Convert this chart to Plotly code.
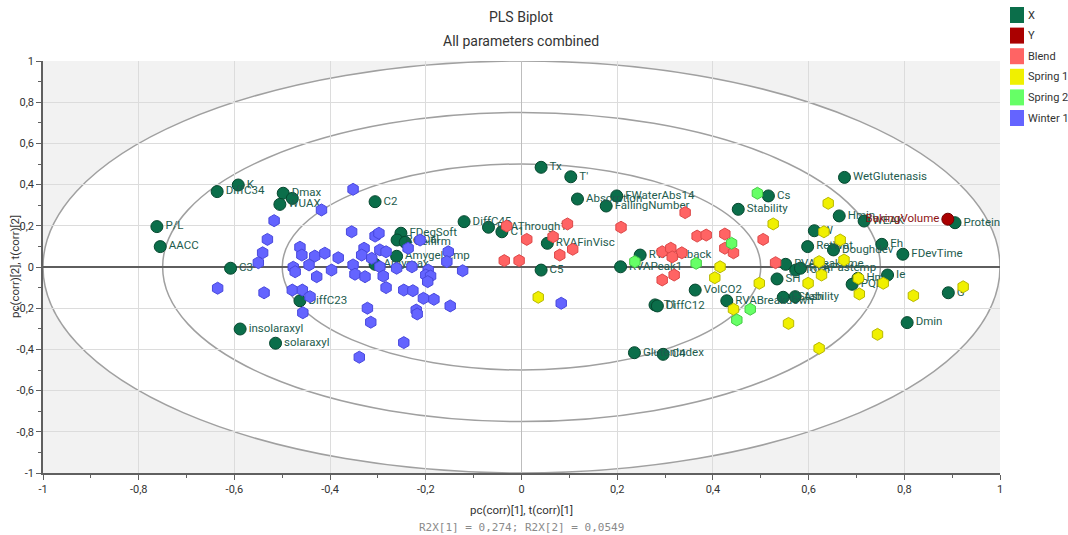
import plotly.graph_objects as go

# ---------------- data ----------------
x_names = ["DiffC34", "K", "Dmax", "", "WUAX", "P/L", "AACC", "C3", "insolaraxyl", "solaraxyl",
           "DiffC23", "C2", "FDegSoft", "RetCal", "Gelfirm", "Amygeltemp", "Amymax", "DiffC45",
           "RVAThrough1", "C1", "Tx", "T'", "Absorption", "FWaterAbs14", "FallingNumber",
           "RVAFinVisc", "C5", "RVAPeak1", "RVASetback", "T1", "DiffC12", "GlutenIndex", "C4",
           "VolCO2", "RVABreakdown", "Cs", "Stability", "WetGlutenasis", "Hmin", "WEAK",
           "Protein", "W", "RetWat", "Doughdev", "Eh", "FDevTime", "Ie", "Hm", "PQN", "G",
           "Dmin", "SH", "RVAPeaktime", "Total", "RVAPastemp", "FStability", "Ash"]
x_pc1 = [-0.636, -0.592, -0.498, -0.479, -0.505, -0.762, -0.755, -0.608, -0.588, -0.514,
         -0.463, -0.306, -0.252, -0.260, -0.243, -0.261, -0.306, -0.120,
         -0.069, -0.041, 0.041, 0.103, 0.117, 0.199, 0.177,
         0.054, 0.041, 0.207, 0.248, 0.279, 0.284, 0.236, 0.296,
         0.363, 0.429, 0.516, 0.453, 0.675, 0.664, 0.716,
         0.906, 0.612, 0.598, 0.652, 0.753, 0.797, 0.765, 0.703, 0.691, 0.892,
         0.806, 0.534, 0.552, 0.573, 0.583, 0.547, 0.572]
x_pc2 = [0.366, 0.398, 0.358, 0.333, 0.304, 0.196, 0.099, -0.006, -0.301, -0.370,
         -0.164, 0.317, 0.164, 0.131, 0.120, 0.052, 0.013, 0.220,
         0.193, 0.171, 0.484, 0.438, 0.330, 0.345, 0.296,
         0.115, -0.015, 0.001, 0.058, -0.184, -0.189, -0.416, -0.424,
         -0.112, -0.164, 0.345, 0.280, 0.435, 0.248, 0.223,
         0.215, 0.176, 0.099, 0.083, 0.110, 0.062, -0.039, -0.055, -0.084, -0.125,
         -0.270, -0.058, 0.013, -0.015, -0.006, -0.147, -0.144]

y_names = ["BakingVolume"]
y_pc1 = [0.891]
y_pc2 = [0.232]

blend_t1 = [-0.031, 0.011, -0.036, -0.005, 0.066, 0.080, 0.107, 0.096, 0.208, 0.342, 0.367,
            0.386, 0.425, 0.425, 0.443, 0.505, 0.294, 0.312, 0.335, 0.319, 0.294, 0.531, 0.315]
blend_t2 = [0.199, 0.134, 0.031, 0.031, 0.147, 0.058, 0.086, 0.209, 0.193, 0.264, 0.150,
            0.155, 0.160, 0.091, 0.069, 0.134, 0.074, 0.091, 0.069, -0.039, -0.063, 0.021, 0.049]

spring1_t1 = [0.035, 0.526, 0.415, 0.404, 0.497, 0.443, 0.558, 0.744, 0.622, 0.641, 0.632,
              0.666, 0.674, 0.622, 0.627, 0.599, 0.704, 0.706, 0.756, 0.819, 0.923]
spring1_t2 = [-0.147, 0.209, 0.001, -0.052, -0.079, -0.205, -0.274, -0.327, -0.395, 0.309, 0.171,
              0.131, 0.034, 0.026, -0.039, -0.079, -0.055, -0.131, -0.079, -0.139, -0.096]

spring2_t1 = [0.493, 0.439, 0.237, 0.365, 0.478, 0.450]
spring2_t2 = [0.358, 0.115, 0.026, 0.018, -0.205, -0.257]

winter1_t1 = [-0.418, -0.517, -0.531, -0.541, -0.550, -0.635, -0.538, -0.477, -0.463, -0.459,
              -0.432, -0.411, -0.444, -0.428, -0.479, -0.458, -0.442, -0.457, -0.473, -0.352,
              -0.355, -0.306, -0.298, -0.383, -0.397, -0.352, -0.348, -0.329, -0.334, -0.313,
              -0.327, -0.296, -0.283, -0.296, -0.289, -0.283, -0.261, -0.246, -0.227, -0.205,
              -0.183, -0.149, -0.220, -0.218, -0.322, -0.315, -0.246, -0.339, -0.237, -0.212,
              -0.153, -0.156, -0.123, -0.195, -0.200, -0.190, -0.196, -0.229, 0.083]
winter1_t2 = [0.277, 0.225, 0.134, 0.069, 0.021, -0.103, -0.125, -0.001, 0.096, 0.058,
              0.053, 0.067, 0.010, -0.047, -0.112, -0.112, -0.144, -0.222, -0.023, 0.377,
              0.171, 0.150, 0.164, 0.045, -0.015, 0.010, -0.035, 0.091, 0.058, 0.042,
              -0.047, 0.083, 0.074, 0.001, -0.044, -0.100, -0.006, -0.112, -0.115, -0.152,
              -0.157, -0.189, -0.209, -0.228, -0.200, -0.268, -0.367, -0.438, 0.091, 0.131,
              0.074, 0.026, -0.018, -0.015, -0.039, -0.044, -0.071, 0.001, -0.176]

tick_vals = [-1, -0.8, -0.6, -0.4, -0.2, 0, 0.2, 0.4, 0.6, 0.8, 1]
tick_text = ["-1", "-0,8", "-0,6", "-0,4", "-0,2", "0", "0,2", "0,4", "0,6", "0,8", "1"]

legend_names = ["X", "Y", "Blend", "Spring 1", "Spring 2", "Winter 1"]
legend_colors = ["#0B6E4A", "#AA0000", "#FF6464", "#F0F000", "#66FF66", "#6464FF"]

# ---------------- style ----------------
LABEL_FONT = "Roboto, Arial, sans-serif"
W, H = 1068, 535
ML, MR, MT, MB = 43, 68, 61, 62
PW, PH = W - ML - MR, H - MT - MB


def pxx(px):
    return (px - ML) / PW


def pxy(py):
    return (H - MB - py) / PH


fig = go.Figure()

fig.add_trace(go.Scatter(
    x=x_pc1, y=x_pc2, mode="markers+text", text=x_names, textposition="middle right",
    textfont=dict(family=LABEL_FONT, size=11.5, color="#1E5C4E"),
    marker=dict(symbol="circle", size=12, color="#0B6E4A", line=dict(color="#06482F", width=1)),
    showlegend=False, cliponaxis=False))

fig.add_trace(go.Scatter(
    x=y_pc1, y=y_pc2, mode="markers+text", text=y_names, textposition="middle left",
    textfont=dict(family=LABEL_FONT, size=11.5, color="#8E1414"),
    marker=dict(symbol="circle", size=12, color="#AA0000", line=dict(color="#700000", width=1)),
    showlegend=False))

obs = [
    (blend_t1, blend_t2, "#FF6464", "#DD4848"),
    (spring1_t1, spring1_t2, "#F0F000", "#B8B800"),
    (spring2_t1, spring2_t2, "#66FF66", "#44CC44"),
    (winter1_t1, winter1_t2, "#6464FF", "#4848DD"),
]
for xs, ys, c, lc in obs:
    fig.add_trace(go.Scatter(
        x=xs, y=ys, mode="markers",
        marker=dict(symbol="hexagon", size=12, color=c, line=dict(color=lc, width=1)),
        showlegend=False))

shapes = []
shapes.append(dict(type="circle", xref="x", yref="y", x0=-1, x1=1, y0=-1, y1=1,
                   fillcolor="white", line=dict(color="#A0A0A0", width=1.5), layer="below"))
for r in (0.75, 0.5):
    shapes.append(dict(type="circle", xref="x", yref="y", x0=-r, x1=r, y0=-r, y1=r,
                       line=dict(color="#A0A0A0", width=1.5), layer="below"))

annotations = []
for i, (n, c) in enumerate(zip(legend_names, legend_colors)):
    cy = 15 + 20.6 * i
    shapes.append(dict(type="rect", xref="paper", yref="paper",
                       x0=pxx(1010), x1=pxx(1024), y0=pxy(cy + 8), y1=pxy(cy - 8),
                       fillcolor=c, line=dict(width=0)))
    annotations.append(dict(xref="paper", yref="paper", x=pxx(1026), y=pxy(cy),
                            text=n, showarrow=False, xanchor="left", yanchor="middle",
                            font=dict(family=LABEL_FONT, size=11, color="#333333")))

TITLE_FONT = "Roboto, Arial, sans-serif"
annotations += [
    dict(xref="paper", yref="paper", x=pxx(521), y=pxy(17), text="PLS Biplot", showarrow=False,
         xanchor="center", yanchor="middle", font=dict(family=TITLE_FONT, size=14, color="#333333")),
    dict(xref="paper", yref="paper", x=pxx(521), y=pxy(41), text="All parameters combined",
         showarrow=False, xanchor="center", yanchor="middle",
         font=dict(family=TITLE_FONT, size=14, color="#333333")),
    dict(xref="paper", yref="paper", x=pxx(521), y=pxy(510), text="pc(corr)[1], t(corr)[1]",
         showarrow=False, xanchor="center", yanchor="middle",
         font=dict(family=LABEL_FONT, size=11.5, color="#333333")),
    dict(xref="paper", yref="paper", x=pxx(521), y=pxy(527), text="R2X[1] = 0,274; R2X[2] = 0,0549",
         showarrow=False, xanchor="center", yanchor="middle",
         font=dict(family="DejaVu Sans Mono, monospace", size=11, color="#8A8A8A")),
    dict(xref="paper", yref="paper", x=pxx(15), y=pxy(267), text="pc(corr)[2], t(corr)[2]",
         showarrow=False, xanchor="center", yanchor="middle", textangle=-90,
         font=dict(family=LABEL_FONT, size=11.5, color="#333333")),
]

axis_common = dict(
    range=[-1, 1], tickvals=tick_vals, ticktext=tick_text,
    showgrid=True, gridcolor="#DCDCDC", gridwidth=1,
    showline=True, linecolor="#606060", linewidth=1.5,
    ticks="outside", ticklen=5, tickcolor="#606060",
    tickfont=dict(family=LABEL_FONT, size=11, color="#333333"),
    minor=dict(ticks="outside", ticklen=3, dtick=0.1, tickcolor="#606060", showgrid=False),
    fixedrange=True,
)

fig.update_layout(
    width=W, height=H,
    margin=dict(l=ML, r=MR, t=MT, b=MB, pad=0),
    paper_bgcolor="white", plot_bgcolor="#F2F2F2",
    shapes=shapes, annotations=annotations, showlegend=False,
    xaxis=dict(**axis_common, zeroline=True, zerolinecolor="#BDBDBD", zerolinewidth=1),
    yaxis=dict(**axis_common, zeroline=True, zerolinecolor="#5E5E5E", zerolinewidth=2),
)

fig.write_html("out.html")
